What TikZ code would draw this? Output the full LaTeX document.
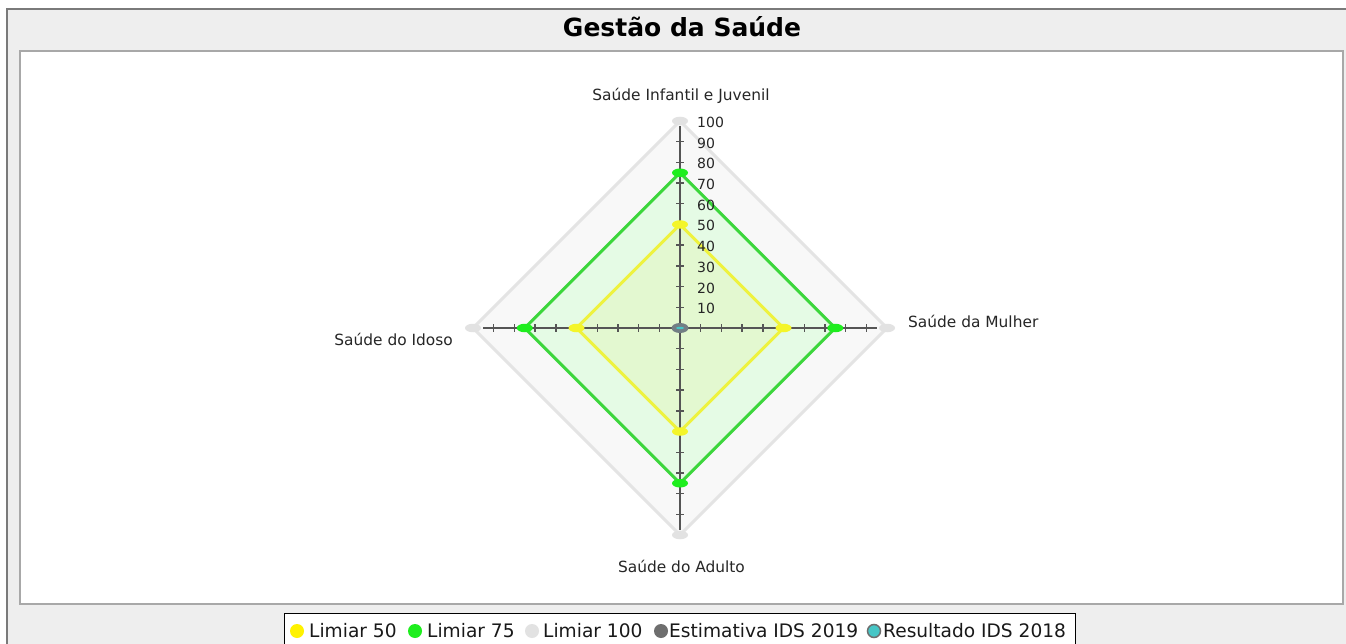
\documentclass[tikz,border=0pt]{standalone}
\usepackage{fontspec}
\setmainfont{DejaVu Sans}
\usetikzlibrary{shapes.geometric}
\definecolor{framegray}{HTML}{EEEEEE}
\definecolor{outerline}{HTML}{7A7A7A}
\definecolor{innerline}{HTML}{A8A8A8}
\definecolor{fillhundred}{HTML}{F8F8F8}
\definecolor{linehundred}{HTML}{E4E4E4}
\definecolor{fillsevenfive}{HTML}{E5FBE5}
\definecolor{linesevenfive}{HTML}{3CD63C}
\definecolor{fillfifty}{HTML}{E3F8D0}
\definecolor{linefifty}{HTML}{EEF23E}
\definecolor{mkhundred}{HTML}{E2E2E2}
\definecolor{mksevenfive}{HTML}{1EEE1E}
\definecolor{mkfifty}{HTML}{F4F52A}
\definecolor{axiscol}{HTML}{555555}
\definecolor{estcol}{HTML}{6E6E6E}
\definecolor{rescol}{HTML}{46C6C6}
\definecolor{centcol}{HTML}{727E84}
\begin{document}
\begin{tikzpicture}[x=1pt,y=-1pt,
  polyline/.style={line width=3pt,line join=miter},
  axisline/.style={draw=axiscol,line width=2.2pt},
  tickmark/.style={draw=axiscol,line width=1.4pt},
  marker/.style={ellipse,minimum width=16pt,minimum height=8.5pt,inner sep=0pt,draw=none},
  axlab/.style={inner sep=0pt,font=\fontsize{15.4}{18}\selectfont,text=black!85},
  ticklab/.style={inner sep=0pt,font=\fontsize{14}{16}\selectfont,anchor=base west,text=black!85},
  leglab/.style={inner sep=0pt,font=\fontsize{18.6}{22}\selectfont,anchor=base west,text=black!90},
  legdot/.style={circle,minimum size=14pt,inner sep=0pt,draw=none}]
\useasboundingbox (0,0) rectangle (1346,644);
\fill[white] (0,0) rectangle (1346,644);
% frame
\fill[framegray] (7,9) rectangle (1346,644);
\draw[outerline,line width=1.2pt] (7,644) -- (7,9) -- (1346,9);
\fill[white] (20,51) rectangle (1343,604);
\draw[innerline,line width=2pt] (20,51) rectangle (1343,604);
% title
\node[inner sep=0pt,anchor=base,font=\fontsize{25}{30}\selectfont\bfseries] (title) at (682,36.5) {Gestão da Saúde};
% spider coordinates
\coordinate (C) at (680,328);
\coordinate (hT) at (680,121);   \coordinate (hR) at (887,328);
\coordinate (hB) at (680,535);   \coordinate (hL) at (473,328);
\coordinate (sT) at (680,172.75);\coordinate (sR) at (835.25,328);
\coordinate (sB) at (680,483.25);\coordinate (sL) at (524.75,328);
\coordinate (fT) at (680,224.5); \coordinate (fR) at (783.5,328);
\coordinate (fB) at (680,431.5); \coordinate (fL) at (576.5,328);
% polygons
\filldraw[polyline,fill=fillhundred,draw=linehundred] (hT) -- (hR) -- (hB) -- (hL) -- cycle;
\filldraw[polyline,fill=fillsevenfive,draw=linesevenfive] (sT) -- (sR) -- (sB) -- (sL) -- cycle;
\filldraw[polyline,fill=fillfifty,draw=linefifty] (fT) -- (fR) -- (fB) -- (fL) -- cycle;
% axes
\coordinate (aT) at (680,126); \coordinate (aB) at (680,530);
\coordinate (aL) at (483,328); \coordinate (aR) at (877,328);
\draw[axisline] (aT) -- (aB);
\draw[axisline] (aL) -- (aR);
\foreach \v in {10,20,...,90}{
  \draw[tickmark] (676,328-2.07*\v) -- (684,328-2.07*\v);
  \draw[tickmark] (676,328+2.07*\v) -- (684,328+2.07*\v);
  \draw[tickmark] (680-2.07*\v,324) -- (680-2.07*\v,332);
  \draw[tickmark] (680+2.07*\v,324) -- (680+2.07*\v,332);
}
\foreach \v in {10,20,...,100}{
  \node[ticklab] (tk\v) at (697,328-2.07*\v+6.5) {\v};
}
% markers
\foreach \p in {hT,hR,hB,hL}{\node[marker,fill=mkhundred] (m\p) at (\p) {};}
\foreach \p in {sT,sR,sB,sL}{\node[marker,fill=mksevenfive] (m\p) at (\p) {};}
\foreach \p in {fT,fR,fB,fL}{\node[marker,fill=mkfifty] (m\p) at (\p) {};}
\node[marker,fill=centcol,minimum width=17pt,minimum height=10pt] (mC) at (C) {};
\node[marker,fill=rescol,minimum width=8pt,minimum height=2.5pt] (mC2) at (C) {};
% axis labels
\node[axlab,anchor=base] (lT) at (681,101) {Saúde Infantil e Juvenil};
\node[axlab,anchor=base east] (lL) at (453,345) {Saúde do Idoso};
\node[axlab,anchor=base west] (lR) at (908,327) {Saúde da Mulher};
\node[axlab,anchor=base] (lB) at (681.5,572) {Saúde do Adulto};
% legend
\draw[black,line width=1pt,fill=white] (284,613) rectangle (1075,650);
\node[legdot,fill=yellow] (d1) at (297,631) {};
\node[leglab] (g1) at (309,637) {Limiar 50};
\node[legdot,fill=mksevenfive] (d2) at (415,631) {};
\node[leglab] (g2) at (427,637) {Limiar 75};
\node[legdot,fill=mkhundred] (d3) at (532,631) {};
\node[leglab] (g3) at (543,637) {Limiar 100};
\node[legdot,fill=estcol] (d4) at (661,631) {};
\node[leglab] (g4) at (669,637) {Estimativa IDS 2019};
\node[legdot,fill=rescol,draw=estcol,line width=1.5pt,minimum size=13pt] (d5) at (874,631) {};
\node[leglab] (g5) at (883,637) {Resultado IDS 2018};
\end{tikzpicture}
\end{document}
